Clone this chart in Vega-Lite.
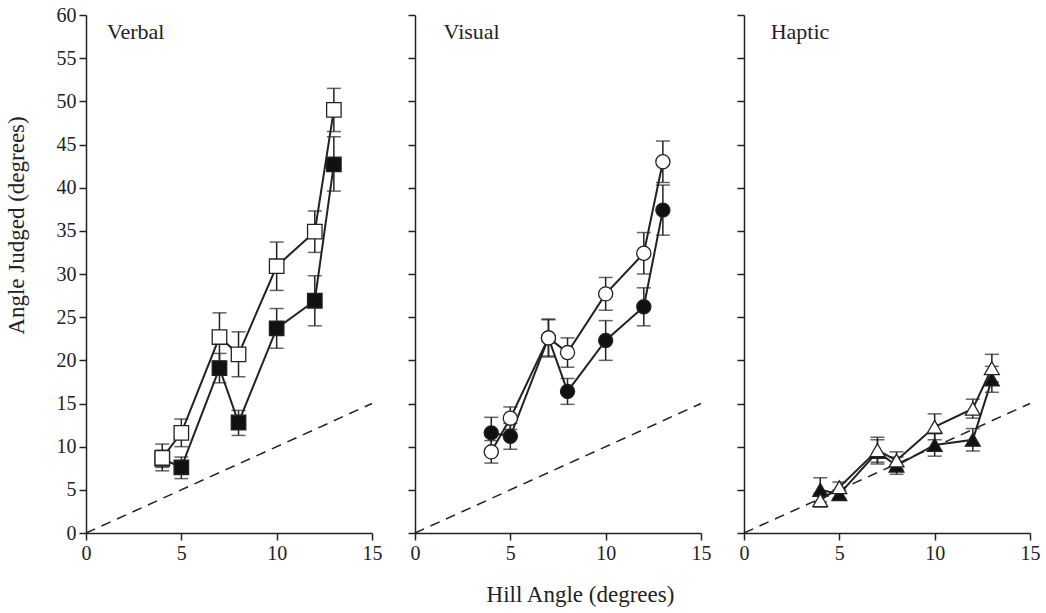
{
  "$schema": "https://vega.github.io/schema/vega-lite/v6.json",
  "background": "white",
  "padding": {"left": 5, "top": 5, "right": 5, "bottom": 5},
  "bounds": "flush",
  "spacing": 43,
  "datasets": {
    "diag": [{"x": 0, "y": 0}, {"x": 15, "y": 15}],
    "pts": [
      {"panel": "Verbal", "cond": "filled", "x": 4, "y": 8.6, "lo": 7.6, "hi": 9.6},
      {"panel": "Verbal", "cond": "filled", "x": 5, "y": 7.6, "lo": 6.3, "hi": 8.8},
      {"panel": "Verbal", "cond": "filled", "x": 7, "y": 19.1, "lo": 17.4, "hi": 20.8},
      {"panel": "Verbal", "cond": "filled", "x": 8, "y": 12.8, "lo": 11.3, "hi": 14.2},
      {"panel": "Verbal", "cond": "filled", "x": 10, "y": 23.7, "lo": 21.4, "hi": 26.0},
      {"panel": "Verbal", "cond": "filled", "x": 12, "y": 26.9, "lo": 24.0, "hi": 29.8},
      {"panel": "Verbal", "cond": "filled", "x": 13, "y": 42.7, "lo": 39.6, "hi": 45.9},
      {"panel": "Verbal", "cond": "open", "x": 4, "y": 8.7, "lo": 7.2, "hi": 10.3},
      {"panel": "Verbal", "cond": "open", "x": 5, "y": 11.6, "lo": 10.0, "hi": 13.2},
      {"panel": "Verbal", "cond": "open", "x": 7, "y": 22.7, "lo": 19.9, "hi": 25.5},
      {"panel": "Verbal", "cond": "open", "x": 8, "y": 20.7, "lo": 18.1, "hi": 23.3},
      {"panel": "Verbal", "cond": "open", "x": 10, "y": 30.9, "lo": 28.1, "hi": 33.7},
      {"panel": "Verbal", "cond": "open", "x": 12, "y": 34.9, "lo": 32.5, "hi": 37.3},
      {"panel": "Verbal", "cond": "open", "x": 13, "y": 49.0, "lo": 46.5, "hi": 51.5},
      {"panel": "Visual", "cond": "filled", "x": 4, "y": 11.6, "lo": 9.8, "hi": 13.4},
      {"panel": "Visual", "cond": "filled", "x": 5, "y": 11.2, "lo": 9.7, "hi": 12.7},
      {"panel": "Visual", "cond": "filled", "x": 7, "y": 22.6, "lo": 20.5, "hi": 24.7},
      {"panel": "Visual", "cond": "filled", "x": 8, "y": 16.4, "lo": 14.9, "hi": 17.9},
      {"panel": "Visual", "cond": "filled", "x": 10, "y": 22.3, "lo": 20.0, "hi": 24.6},
      {"panel": "Visual", "cond": "filled", "x": 12, "y": 26.2, "lo": 24.0, "hi": 28.4},
      {"panel": "Visual", "cond": "filled", "x": 13, "y": 37.4, "lo": 34.5, "hi": 40.3},
      {"panel": "Visual", "cond": "open", "x": 4, "y": 9.4, "lo": 8.1, "hi": 10.7},
      {"panel": "Visual", "cond": "open", "x": 5, "y": 13.3, "lo": 12.0, "hi": 14.6},
      {"panel": "Visual", "cond": "open", "x": 7, "y": 22.6, "lo": 20.4, "hi": 24.8},
      {"panel": "Visual", "cond": "open", "x": 8, "y": 20.9, "lo": 19.2, "hi": 22.6},
      {"panel": "Visual", "cond": "open", "x": 10, "y": 27.7, "lo": 25.8, "hi": 29.6},
      {"panel": "Visual", "cond": "open", "x": 12, "y": 32.4, "lo": 30.0, "hi": 34.8},
      {"panel": "Visual", "cond": "open", "x": 13, "y": 43.0, "lo": 40.6, "hi": 45.4},
      {"panel": "Haptic", "cond": "filled", "x": 4, "y": 5.0, "lo": 3.6, "hi": 6.4},
      {"panel": "Haptic", "cond": "filled", "x": 5, "y": 4.5, "lo": 4.0, "hi": 5.0},
      {"panel": "Haptic", "cond": "filled", "x": 7, "y": 9.4, "lo": 8.0, "hi": 10.8},
      {"panel": "Haptic", "cond": "filled", "x": 8, "y": 7.8, "lo": 6.8, "hi": 8.8},
      {"panel": "Haptic", "cond": "filled", "x": 10, "y": 10.2, "lo": 8.9, "hi": 11.5},
      {"panel": "Haptic", "cond": "filled", "x": 12, "y": 10.8, "lo": 9.5, "hi": 12.1},
      {"panel": "Haptic", "cond": "filled", "x": 13, "y": 17.8, "lo": 16.3, "hi": 19.3},
      {"panel": "Haptic", "cond": "open", "x": 4, "y": 3.8, "lo": 3.0, "hi": 4.6},
      {"panel": "Haptic", "cond": "open", "x": 5, "y": 5.3, "lo": 4.7, "hi": 5.9},
      {"panel": "Haptic", "cond": "open", "x": 7, "y": 9.6, "lo": 8.2, "hi": 11.1},
      {"panel": "Haptic", "cond": "open", "x": 8, "y": 8.4, "lo": 7.4, "hi": 9.4},
      {"panel": "Haptic", "cond": "open", "x": 10, "y": 12.3, "lo": 10.8, "hi": 13.8},
      {"panel": "Haptic", "cond": "open", "x": 12, "y": 14.4, "lo": 13.3, "hi": 15.5},
      {"panel": "Haptic", "cond": "open", "x": 13, "y": 19.1, "lo": 17.5, "hi": 20.7}
    ]
  },
  "hconcat": [
    {
      "width": 286, "height": 518,
      "layer": [
        {"data": {"name": "diag"}, "mark": {"type": "line", "color": "#222", "strokeWidth": 1.5, "strokeDash": [10, 7]},
         "encoding": {
           "x": {"field": "x", "type": "quantitative", "scale": {"domain": [0, 15], "nice": false, "zero": false}, "axis": {"values": [0, 5, 10, 15], "title": null}},
           "y": {"field": "y", "type": "quantitative", "scale": {"domain": [0, 60], "nice": false}, "axis": {"values": [0, 5, 10, 15, 20, 25, 30, 35, 40, 45, 50, 55, 60], "title": "Angle Judged (degrees)", "titleY": 210}}
         }},
        {"data": {"name": "pts"}, "transform": [{"filter": "datum.panel === 'Verbal'"}], "mark": {"type": "rule", "color": "#222", "strokeWidth": 1.5},
         "encoding": {"x": {"field": "x", "type": "quantitative"}, "y": {"field": "lo", "type": "quantitative"}, "y2": {"field": "hi"}}},
        {"data": {"name": "pts"}, "transform": [{"filter": "datum.panel === 'Verbal'"}], "mark": {"type": "tick", "orient": "horizontal", "size": 14, "thickness": 1.5, "color": "#222"},
         "encoding": {"x": {"field": "x", "type": "quantitative"}, "y": {"field": "lo", "type": "quantitative"}}},
        {"data": {"name": "pts"}, "transform": [{"filter": "datum.panel === 'Verbal'"}], "mark": {"type": "tick", "orient": "horizontal", "size": 14, "thickness": 1.5, "color": "#222"},
         "encoding": {"x": {"field": "x", "type": "quantitative"}, "y": {"field": "hi", "type": "quantitative"}}},
        {"data": {"name": "pts"}, "transform": [{"filter": "datum.panel === 'Verbal'"}], "mark": {"type": "line", "color": "#222", "strokeWidth": 2},
         "encoding": {"x": {"field": "x", "type": "quantitative"}, "y": {"field": "y", "type": "quantitative"}, "detail": {"field": "cond"}}},
        {"data": {"name": "pts"}, "transform": [{"filter": "datum.panel === 'Verbal'"}], "mark": {"type": "point", "shape": "square", "size": 210, "stroke": "#222", "strokeWidth": 1.3, "opacity": 1, "filled": false},
         "encoding": {"x": {"field": "x", "type": "quantitative"}, "y": {"field": "y", "type": "quantitative"}, "fill": {"field": "cond", "type": "nominal", "scale": {"domain": ["filled", "open"], "range": ["#111", "white"]}, "legend": null}}},
        {"data": {"values": [{"label": "Verbal"}]}, "mark": {"type": "text", "align": "left", "baseline": "middle", "font": "Liberation Serif", "fontSize": 22, "fill": "#222"},
         "encoding": {"x": {"datum": 1.1}, "y": {"datum": 58}, "text": {"field": "label", "type": "nominal"}}}
      ]
    },
    {
      "width": 286, "height": 518,
      "layer": [
        {"data": {"name": "diag"}, "mark": {"type": "line", "color": "#222", "strokeWidth": 1.5, "strokeDash": [10, 7]},
         "encoding": {
           "x": {"field": "x", "type": "quantitative", "scale": {"domain": [0, 15], "nice": false, "zero": false}, "axis": {"values": [0, 5, 10, 15], "title": "Hill Angle (degrees)", "titlePadding": 20, "titleX": 165}},
           "y": {"field": "y", "type": "quantitative", "scale": {"domain": [0, 60], "nice": false}, "axis": {"values": [0, 5, 10, 15, 20, 25, 30, 35, 40, 45, 50, 55, 60], "labels": false, "title": null}}
         }},
        {"data": {"name": "pts"}, "transform": [{"filter": "datum.panel === 'Visual'"}], "mark": {"type": "rule", "color": "#222", "strokeWidth": 1.5},
         "encoding": {"x": {"field": "x", "type": "quantitative"}, "y": {"field": "lo", "type": "quantitative"}, "y2": {"field": "hi"}}},
        {"data": {"name": "pts"}, "transform": [{"filter": "datum.panel === 'Visual'"}], "mark": {"type": "tick", "orient": "horizontal", "size": 14, "thickness": 1.5, "color": "#222"},
         "encoding": {"x": {"field": "x", "type": "quantitative"}, "y": {"field": "lo", "type": "quantitative"}}},
        {"data": {"name": "pts"}, "transform": [{"filter": "datum.panel === 'Visual'"}], "mark": {"type": "tick", "orient": "horizontal", "size": 14, "thickness": 1.5, "color": "#222"},
         "encoding": {"x": {"field": "x", "type": "quantitative"}, "y": {"field": "hi", "type": "quantitative"}}},
        {"data": {"name": "pts"}, "transform": [{"filter": "datum.panel === 'Visual'"}], "mark": {"type": "line", "color": "#222", "strokeWidth": 2},
         "encoding": {"x": {"field": "x", "type": "quantitative"}, "y": {"field": "y", "type": "quantitative"}, "detail": {"field": "cond"}}},
        {"data": {"name": "pts"}, "transform": [{"filter": "datum.panel === 'Visual'"}], "mark": {"type": "point", "shape": "circle", "size": 200, "stroke": "#222", "strokeWidth": 1.3, "opacity": 1, "filled": false},
         "encoding": {"x": {"field": "x", "type": "quantitative"}, "y": {"field": "y", "type": "quantitative"}, "fill": {"field": "cond", "type": "nominal", "scale": {"domain": ["filled", "open"], "range": ["#111", "white"]}, "legend": null}}},
        {"data": {"values": [{"label": "Visual"}]}, "mark": {"type": "text", "align": "left", "baseline": "middle", "font": "Liberation Serif", "fontSize": 22, "fill": "#222"},
         "encoding": {"x": {"datum": 1.5}, "y": {"datum": 58}, "text": {"field": "label", "type": "nominal"}}}
      ]
    },
    {
      "width": 286, "height": 518,
      "layer": [
        {"data": {"name": "diag"}, "mark": {"type": "line", "color": "#222", "strokeWidth": 1.5, "strokeDash": [10, 7]},
         "encoding": {
           "x": {"field": "x", "type": "quantitative", "scale": {"domain": [0, 15], "nice": false, "zero": false}, "axis": {"values": [0, 5, 10, 15], "title": null}},
           "y": {"field": "y", "type": "quantitative", "scale": {"domain": [0, 60], "nice": false}, "axis": {"values": [0, 5, 10, 15, 20, 25, 30, 35, 40, 45, 50, 55, 60], "labels": false, "title": null}}
         }},
        {"data": {"name": "pts"}, "transform": [{"filter": "datum.panel === 'Haptic'"}], "mark": {"type": "rule", "color": "#222", "strokeWidth": 1.5},
         "encoding": {"x": {"field": "x", "type": "quantitative"}, "y": {"field": "lo", "type": "quantitative"}, "y2": {"field": "hi"}}},
        {"data": {"name": "pts"}, "transform": [{"filter": "datum.panel === 'Haptic'"}], "mark": {"type": "tick", "orient": "horizontal", "size": 14, "thickness": 1.5, "color": "#222"},
         "encoding": {"x": {"field": "x", "type": "quantitative"}, "y": {"field": "lo", "type": "quantitative"}}},
        {"data": {"name": "pts"}, "transform": [{"filter": "datum.panel === 'Haptic'"}], "mark": {"type": "tick", "orient": "horizontal", "size": 14, "thickness": 1.5, "color": "#222"},
         "encoding": {"x": {"field": "x", "type": "quantitative"}, "y": {"field": "hi", "type": "quantitative"}}},
        {"data": {"name": "pts"}, "transform": [{"filter": "datum.panel === 'Haptic'"}], "mark": {"type": "line", "color": "#222", "strokeWidth": 2},
         "encoding": {"x": {"field": "x", "type": "quantitative"}, "y": {"field": "y", "type": "quantitative"}, "detail": {"field": "cond"}}},
        {"data": {"name": "pts"}, "transform": [{"filter": "datum.panel === 'Haptic'"}], "mark": {"type": "point", "shape": "triangle-up", "size": 220, "stroke": "#222", "strokeWidth": 1.3, "opacity": 1, "filled": false},
         "encoding": {"x": {"field": "x", "type": "quantitative"}, "y": {"field": "y", "type": "quantitative"}, "fill": {"field": "cond", "type": "nominal", "scale": {"domain": ["filled", "open"], "range": ["#111", "white"]}, "legend": null}}},
        {"data": {"values": [{"label": "Haptic"}]}, "mark": {"type": "text", "align": "left", "baseline": "middle", "font": "Liberation Serif", "fontSize": 22, "fill": "#222"},
         "encoding": {"x": {"datum": 1.4}, "y": {"datum": 58}, "text": {"field": "label", "type": "nominal"}}}
      ]
    }
  ],
  "config": {
    "view": {"stroke": null},
    "axis": {
      "grid": false,
      "domainColor": "#222", "domainWidth": 1.5,
      "tickColor": "#222", "tickWidth": 1.5, "tickSize": 7,
      "labelFont": "Liberation Serif", "labelFontSize": 20, "labelColor": "#222", "labelPadding": 3,
      "titleFont": "Liberation Serif", "titleFontSize": 23, "titleFontWeight": "normal", "titleColor": "#222",
      "labelFlush": false, "labelOverlap": false
    },
    "axisY": {"titlePadding": 28}
  }
}
